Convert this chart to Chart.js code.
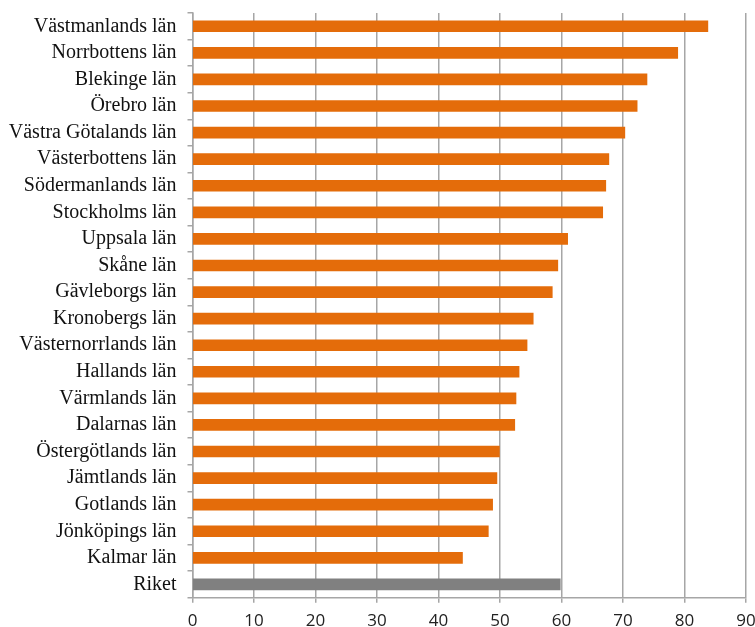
<!DOCTYPE html>
<html>
<head>
<meta charset="utf-8">
<script src="https://cdn.jsdelivr.net/npm/chart.js@4/dist/chart.umd.min.js"></script>
<style>
    html, body { margin: 0; padding: 0; background: #fff; overflow: hidden; }
    #wrap { width: 755px; height: 645px; position: relative; }
</style>
</head>
<body>
<div id="wrap"><canvas id="lanChart"></canvas></div>
<script>
// counties, top to bottom, plus the national figure last
const categories = [
    'Västmanlands län', 'Norrbottens län', 'Blekinge län', 'Örebro län',
    'Västra Götalands län', 'Västerbottens län', 'Södermanlands län', 'Stockholms län',
    'Uppsala län', 'Skåne län', 'Gävleborgs län', 'Kronobergs län',
    'Västernorrlands län', 'Hallands län', 'Värmlands län', 'Dalarnas län',
    'Östergötlands län', 'Jämtlands län', 'Gotlands län', 'Jönköpings län',
    'Kalmar län', 'Riket'
];
const values = [
    83.8, 78.9, 73.9, 72.3,
    70.3, 67.7, 67.2, 66.7,
    61.0, 59.4, 58.5, 55.4,
    54.4, 53.1, 52.6, 52.4,
    49.9, 49.5, 48.8, 48.1,
    43.9, 59.8
];
const xTicks = [0, 10, 20, 30, 40, 50, 60, 70, 80, 90];

const ORANGE = '#e46c0a';
const GREY = '#808080';
const LINE = '#a6a6a6';

document.addEventListener('DOMContentLoaded', () => {
    const ctx = document.getElementById('lanChart').getContext('2d');

    new Chart(ctx, {
        type: 'bar',
        data: {
            labels: categories,
            datasets: [{
                data: values,
                // national average drawn in grey
                backgroundColor: (c) => categories[c.index] === 'Riket' ? GREY : ORANGE,
                barThickness: 11,
                borderWidth: 0
            }]
        },
        options: {
            indexAxis: 'y',
            responsive: true,
            maintainAspectRatio: false,
            animation: false,
            layout: { padding: { top: 13, right: 9, left: 0, bottom: 0 } },
            plugins: {
                legend: { display: false },
                tooltip: { enabled: false }
            },
            scales: {
                x: {
                    min: xTicks[0],
                    max: xTicks[xTicks.length - 1],
                    afterBuildTicks: (scale) => {
                        scale.ticks = xTicks.map(v => ({ value: v }));
                    },
                    afterFit: (scale) => {
                        scale.height = 47.3;
                        scale.paddingLeft = 0;
                        scale.paddingRight = 0;
                    },
                    grid: {
                        color: LINE,
                        lineWidth: 1.5,
                        tickLength: 5,
                        drawTicks: true
                    },
                    border: { color: LINE, width: 1.5 },
                    ticks: {
                        color: '#222',
                        padding: 8,
                        font: { family: '"Open Sans", sans-serif', size: 17 }
                    }
                },
                y: {
                    afterFit: (scale) => {
                        scale.width = 192.5;
                        scale.paddingTop = 0;
                        scale.paddingBottom = 0;
                    },
                    grid: {
                        drawOnChartArea: false,
                        color: LINE,
                        lineWidth: 1.5,
                        tickLength: 5
                    },
                    border: { color: LINE, width: 1.5 },
                    ticks: {
                        color: '#111',
                        padding: 11,
                        autoSkip: false,
                        font: { family: '"Liberation Serif", "Times New Roman", serif', size: 20 }
                    }
                }
            }
        }
    });
});
</script>
</body>
</html>
